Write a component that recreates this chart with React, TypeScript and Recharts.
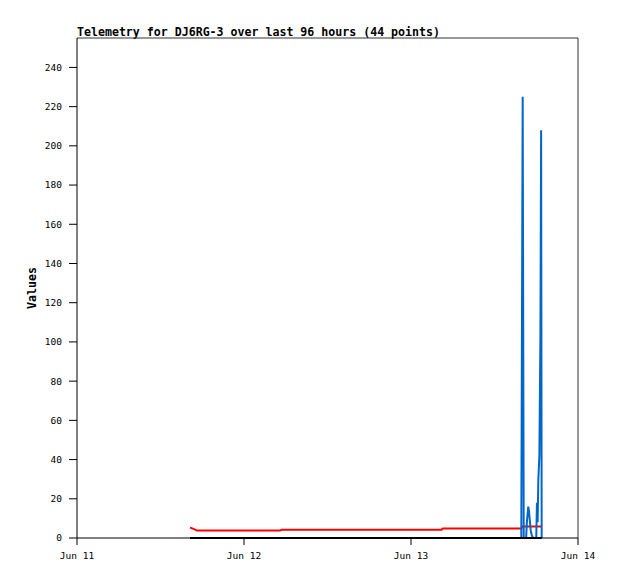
import { LineChart, Line, XAxis, YAxis, ReferenceLine, Label } from "recharts";

// hours since Jun 11 00:00
const hours = [
  16.24, 16.67, 17.25, 19.5, 22.0, 25.0, 27.5, 29.2,
  29.4, 32.0, 35.0, 38.0, 41.0, 44.0, 47.0, 50.0, 52.4,
  52.55, 55.5, 58.5, 61.5, 63.6,
  63.85, 64.05, 64.2,
  64.4, 64.55, 64.65, 64.75, 64.85, 64.95, 65.05, 65.2, 65.35, 65.55, 65.75,
  66.0, 66.1, 66.2, 66.3, 66.45, 66.6, 66.7, 66.78,
];

const redValues = [
  5.3, 4.8, 3.8, 3.8, 3.8, 3.8, 3.8, 3.8,
  4.2, 4.2, 4.2, 4.2, 4.2, 4.2, 4.2, 4.2, 4.2,
  4.8, 4.8, 4.8, 4.8, 4.8,
  4.8, 5.9, 5.9,
  5.9, 5.9, 5.9, 5.9, 5.9, 5.9, 5.9, 5.9, 5.9, 5.9, 5.9,
  5.9, 5.9, 5.9, 5.9, 5.9, 5.9, 5.9, 5.9,
];

const blueValues = [
  0, 0, 0, 0, 0, 0, 0, 0,
  0, 0, 0, 0, 0, 0, 0, 0, 0,
  0, 0, 0, 0, 0,
  0, 225, 0,
  0, 0, 8, 12, 16, 14, 10, 4, 1.5, 0, 0,
  0, 18, 8, 30, 42, 104, 208, 0,
];

const blackValues = [
  0, 0, 0, 0, 0, 0, 0, 0,
  0, 0, 0, 0, 0, 0, 0, 0, 0,
  0, 0, 0, 0, 0,
  0, 0, 0,
  0, 0, 0, 0, 0, 0, 0, 0, 0, 0, 0,
  0, 0, 0, 0, 0, 0, 0, 0,
];

const xTicks = [0, 24, 48, 72];
const xLabels = ["Jun 11", "Jun 12", "Jun 13", "Jun 14"];
const yTicks = [0, 20, 40, 60, 80, 100, 120, 140, 160, 180, 200, 220, 240];

const data = hours.map((t, i) => ({
  t,
  red: redValues[i],
  blue: blueValues[i],
  black: blackValues[i],
}));

const mono = "'DejaVu Sans Mono', monospace";
const tickStyle = { fontFamily: mono, fontSize: 9.5, fill: "#000" };

export default function App() {
  return (
    <div style={{ position: "relative", width: 602, height: 563 }}>
      <div
        style={{
          position: "absolute",
          left: 69,
          top: 18,
          fontFamily: mono,
          fontWeight: "bold",
          fontSize: 11.6,
          lineHeight: "12px",
          whiteSpace: "nowrap",
        }}
      >
        Telemetry for DJ6RG-3 over last 96 hours (44 points)
      </div>
      <LineChart
        width={602}
        height={563}
        data={data}
        margin={{ top: 30, right: 32, bottom: 0, left: 0 }}
      >
        <XAxis
          dataKey="t"
          type="number"
          domain={[0, 72]}
          ticks={xTicks}
          tickFormatter={(v, i) => xLabels[i]}
          height={33}
          tickSize={7}
          tickMargin={7}
          tick={tickStyle}
          axisLine={{ stroke: "#000" }}
          tickLine={{ stroke: "#000" }}
        />
        <YAxis
          type="number"
          domain={[0, 255]}
          ticks={yTicks}
          width={69}
          tickSize={8}
          tickMargin={7}
          tick={tickStyle}
          axisLine={{ stroke: "#000" }}
          tickLine={{ stroke: "#000" }}
        >
          <Label
            value="Values"
            angle={-90}
            position="insideLeft"
            offset={24}
            style={{
              textAnchor: "middle",
              fontFamily: mono,
              fontWeight: "bold",
              fontSize: 11.6,
              fill: "#000",
            }}
          />
        </YAxis>
        <ReferenceLine y={255} stroke="#333" />
        <ReferenceLine x={72} stroke="#333" />
        <Line
          dataKey="red"
          type="linear"
          stroke="#FF0000"
          strokeWidth={2}
          dot={false}
          isAnimationActive={false}
        />
        <Line
          dataKey="blue"
          type="linear"
          stroke="#0066CC"
          strokeWidth={2}
          dot={false}
          isAnimationActive={false}
        />
        <Line
          dataKey="black"
          type="linear"
          stroke="#000"
          strokeWidth={2}
          dot={false}
          isAnimationActive={false}
        />
      </LineChart>
    </div>
  );
}
